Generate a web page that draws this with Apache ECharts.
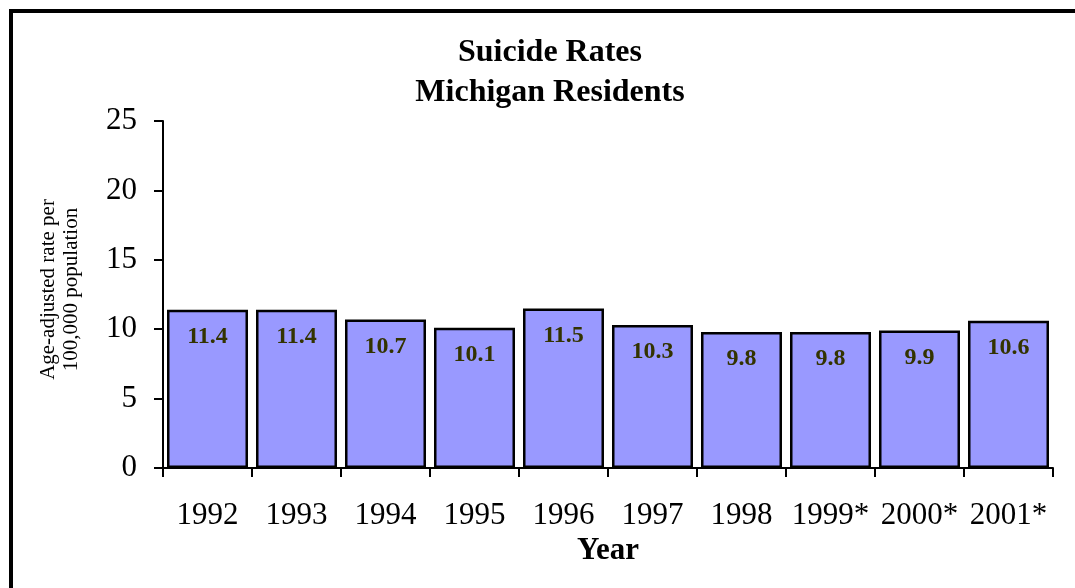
<!DOCTYPE html>
<html>
<head>
<meta charset="utf-8">
<script src="https://cdn.jsdelivr.net/npm/echarts@6/dist/echarts.min.js"></script>
<style>
  html, body { margin: 0; padding: 0; background: #fff; }
  #chart { width: 1075px; height: 588px; }
</style>
</head>
<body>
<div id="chart"></div>
<script>
var years = ['1992', '1993', '1994', '1995', '1996', '1997', '1998', '1999*', '2000*', '2001*'];
var rates = [11.4, 11.4, 10.7, 10.1, 11.5, 10.3, 9.8, 9.8, 9.9, 10.6];

var serif = '"Liberation Serif", "Times New Roman", serif';

var chart = echarts.init(document.getElementById('chart'));
var option = {
  animation: false,
  graphic: [{
    type: 'rect',
    shape: { x: 11, y: 11, width: 1200, height: 700 },
    style: { fill: 'none', stroke: '#000', lineWidth: 4 }
  }],
  title: {
    text: 'Suicide Rates\nMichigan Residents',
    left: 545,
    top: 28,
    textAlign: 'center',
    textStyle: {
      fontFamily: serif, fontSize: 32, fontWeight: 'bold', color: '#000', lineHeight: 40
    }
  },
  grid: { left: 163, right: 22, top: 121, bottom: 120 },
  xAxis: {
    type: 'category',
    data: years,
    name: 'Year',
    nameLocation: 'middle',
    nameGap: 66,
    nameTextStyle: { fontFamily: serif, fontSize: 31, fontWeight: 'bold', color: '#000' },
    axisLine: { lineStyle: { color: '#000', width: 2 } },
    axisTick: { show: true, interval: 0, length: 9, lineStyle: { color: '#000', width: 2 } },
    axisLabel: { interval: 0, fontFamily: serif, fontSize: 31, color: '#000', margin: 32 }
  },
  yAxis: {
    type: 'value',
    min: 0, max: 25, interval: 5,
    name: 'Age-adjusted rate per\n100,000 population',
    nameLocation: 'middle',
    nameRotate: 90,
    nameGap: 80,
    nameTextStyle: { fontFamily: serif, fontSize: 21, color: '#000', lineHeight: 23, padding: [0, 0, 0, 10] },
    splitLine: { show: false },
    axisLine: { show: true, lineStyle: { color: '#000', width: 2 } },
    axisTick: { show: true, length: 9, lineStyle: { color: '#000', width: 2 } },
    axisLabel: { fontFamily: serif, fontSize: 31, color: '#000', margin: 26 }
  },
  series: [{
    type: 'bar',
    data: rates,
    barCategoryGap: '9%',
    itemStyle: { color: '#9999ff', borderColor: '#000', borderWidth: 2.5 },
    label: {
      show: true,
      position: 'insideTop',
      distance: 15,
      fontFamily: serif, fontSize: 24, fontWeight: 'bold', color: '#333300'
    }
  }]
};
chart.setOption(option);
</script>
</body>
</html>
